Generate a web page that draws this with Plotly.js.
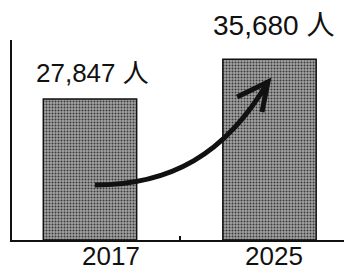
<!DOCTYPE html>
<html>
<head>
<meta charset="utf-8">
<script src="https://cdn.plot.ly/plotly-3.0.1.min.js"></script>
<style>html,body{margin:0;padding:0;background:#fff;}#chart{width:344px;height:276px;}</style>
</head>
<body>
<div id="chart"></div>
<script>
// ---- data ----
const categories = ['2017', '2025'];
const visitors = [27847, 35680];
const unitLabel = '人';

// ---- styling helpers (not data) ----
const FONT = 'Liberation Sans, Arial, Noto Sans CJK JP, sans-serif';
const valueFontSizes = [26, 28];
const valueShifts = [[2, 9], [4, 16]];   // [xshift, yshift] in px
const yearShifts = [21, 4];

function fmt(v) { return String(v).replace(/\B(?=(\d{3})+(?!\d))/g, ','); }

const trace = {
  type: 'bar',
  x: categories,
  y: visitors,
  width: 0.52,
  marker: {
    color: '#8e8e8e',
    line: { color: '#111', width: 1.5 },
    pattern: { shape: '.', fgcolor: '#3a3a3a', bgcolor: '#a2a2a2', size: 3, solidity: 0.35 }
  },
  hoverinfo: 'skip'
};

const annotations = [];
categories.forEach((c, i) => {
  annotations.push({
    x: i, y: visitors[i], xref: 'x', yref: 'y',
    text: fmt(visitors[i]) + ' ' + unitLabel,
    showarrow: false, yanchor: 'bottom', xanchor: 'center',
    xshift: valueShifts[i][0], yshift: valueShifts[i][1],
    font: { family: FONT, size: valueFontSizes[i], color: '#111' }
  });
  annotations.push({
    x: i, y: 0, xref: 'x', yref: 'paper',
    text: c, showarrow: false, yanchor: 'top', xanchor: 'center',
    xshift: yearShifts[i], yshift: 1,
    font: { family: FONT, size: 26, color: '#111' }
  });
});

// decorative curved arrow (paper coordinates)
const arrowCurve = 'M 0.25,0.275 C 0.476,0.275 0.642,0.425 0.771,0.79';
const arrowHead = 'M 0.678,0.715 L 0.771,0.79 L 0.753,0.64';

const layout = {
  width: 344, height: 276, autosize: false,
  margin: { l: 12, r: 0, t: 40, b: 36, pad: 0 },
  paper_bgcolor: '#fff', plot_bgcolor: '#fff',
  showlegend: false,
  xaxis: {
    type: 'category', range: [-0.4345, 1.415],
    showline: true, linecolor: '#111', linewidth: 2,
    ticks: 'inside', tickson: 'boundaries', ticklen: 4, tickcolor: '#111', tickwidth: 1.5,
    showticklabels: false, showgrid: false, zeroline: false, fixedrange: true
  },
  yaxis: {
    range: [0, 39500],
    showline: true, linecolor: '#111', linewidth: 1.5,
    ticks: '', showticklabels: false, showgrid: false, zeroline: false, fixedrange: true
  },
  annotations: annotations,
  shapes: [
    { type: 'path', xref: 'paper', yref: 'paper', path: arrowCurve, line: { color: '#111', width: 5 }, layer: 'above' },
    { type: 'path', xref: 'paper', yref: 'paper', path: arrowHead, line: { color: '#111', width: 5 }, layer: 'above' }
  ]
};

Plotly.newPlot('chart', [trace], layout, { displayModeBar: false });
</script>
</body>
</html>
